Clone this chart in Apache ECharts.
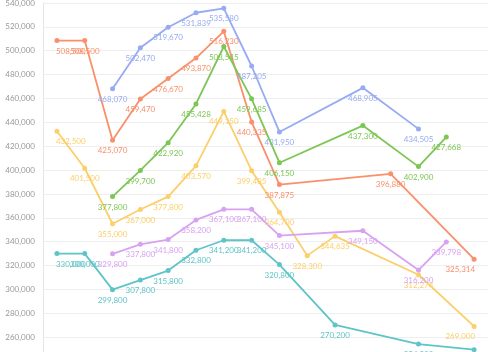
<!DOCTYPE html>
<html>
<head>
<meta charset="utf-8">
<script src="https://cdn.jsdelivr.net/npm/echarts@6/dist/echarts.min.js"></script>
<style>
html,body{margin:0;padding:0;background:#fff;}
#main{width:500px;height:352px;}
</style>
</head>
<body>
<div id="main"></div>
<script>
var categories = ['1','2','3','4','5','6','7','8','9','10','11','12','13','14','15','16'];
var seriesOrange = [508500, 508500, 425070, 459470, 476670, 493870, 516230, 440335, 387875, null, null, null, 396880, null, null, 325314];
var seriesBlue   = [null, null, 468070, 502470, 519670, 531839, 535580, 487205, 431950, null, null, 468905, null, 434505, null, null];
var seriesGreen  = [null, null, 377800, 399700, 422920, 455428, 503545, 459685, 406150, null, null, 437300, null, 402900, 427668, null];
var seriesYellow = [432500, 401500, 355000, 367000, 377800, 403570, 449150, 399485, 364700, 328300, 344635, null, null, 312274, null, 269000];
var seriesPurple = [null, null, 329800, 337800, 341800, 358200, 367100, 367100, 345100, null, null, 349150, null, 316200, 339798, null];
var seriesTeal   = [330000, 330000, 299800, 307800, 315800, 332800, 341200, 341200, 320800, null, 270200, null, null, 254200, null, 249500];

var myChart = echarts.init(document.getElementById('main'));

var last = categories.length - 1;
var mk = function (data, color) {
    //first and last labels kept inside the plot
    var items = data.map(function (v, i) {
        if (i === 0) return {value: v, label: {align: 'left', offset: [-1, 0]}};
        if (i === last) return {value: v, label: {align: 'right', offset: [1, 0]}};
        return v;
    });
    return {
        type: 'line',
        data: items,
        connectNulls: true,
        symbol: 'circle',
        symbolSize: 5,
        animation: false,
        lineStyle: {color: color, width: 1.8},
        itemStyle: {color: color},
        label: {
            show: true,
            position: 'bottom',
            distance: 4,
            color: color,
            fontSize: 8,
            fontFamily: 'Lato',
            formatter: function (p) {
                var v = p.value;
                return v == null ? '' : v.toLocaleString('en-US');
            }
        }
    };
};

var option = {
    backgroundColor: '#fff',
    grid: {left: 43, right: 12, top: 3, height: 358, outerBoundsMode: 'none', containLabel: false},
    xAxis: {
        type: 'category',
        data: categories,
        boundaryGap: true,
        axisLabel: {show: false},
        axisTick: {show: false},
        axisLine: {lineStyle: {color: '#e6e6e6'}}
    },
    yAxis: {
        type: 'value',
        min: 240000,
        max: 540000,
        interval: 20000,
        axisLine: {show: true, lineStyle: {color: '#e6e6e6'}},
        axisTick: {show: false},
        splitLine: {lineStyle: {color: '#eeeeee'}},
        axisLabel: {
            color: '#999',
            fontSize: 8,
            fontFamily: 'Lato',
            formatter: function (v) { return v.toLocaleString('en-US'); }
        }
    },
    series: [
        mk(seriesOrange, '#f9906b'),
        mk(seriesBlue, '#97abf3'),
        mk(seriesGreen, '#7cc654'),
        mk(seriesYellow, '#fbcf6a'),
        mk(seriesPurple, '#d8a2f2'),
        mk(seriesTeal, '#5ec4c8')
    ]
};
myChart.setOption(option);
</script>
</body>
</html>
